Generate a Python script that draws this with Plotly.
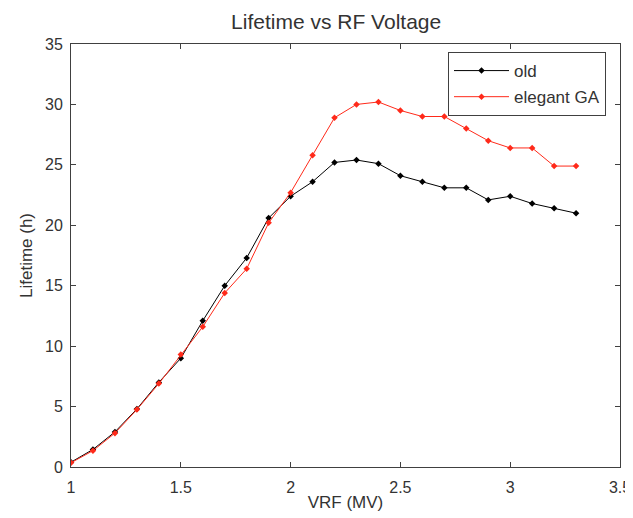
import plotly.graph_objects as go

vrf = [1.0, 1.1, 1.2, 1.3, 1.4, 1.5, 1.6, 1.7, 1.8, 1.9, 2.0, 2.1,
       2.2, 2.3, 2.4, 2.5, 2.6, 2.7, 2.8, 2.9, 3.0, 3.1, 3.2, 3.3]
old = [0.4, 1.45, 2.9, 4.8, 7.0, 9.0, 12.1, 15.0, 17.3, 20.6, 22.4, 23.6,
       25.2, 25.4, 25.1, 24.1, 23.6, 23.1, 23.1, 22.1, 22.4, 21.8, 21.4, 21.0]
ga = [0.35, 1.35, 2.8, 4.75, 6.9, 9.3, 11.6, 14.4, 16.4, 20.2, 22.7, 25.8,
      28.9, 30.0, 30.2, 29.5, 29.0, 29.0, 28.0, 27.0, 26.4, 26.4, 24.9, 24.9]
xticks = [1, 1.5, 2, 2.5, 3, 3.5]
xticklabels = ["1", "1.5", "2", "2.5", "3", "3.5"]
yticks = [0, 5, 10, 15, 20, 25, 30, 35]

fig = go.Figure()
fig.add_trace(go.Scatter(x=vrf, y=old, mode="lines+markers", name="old",
                         legendgroup="a",
                         line=dict(color="black", width=1),
                         marker=dict(symbol="diamond", size=5, color="black")))
fig.add_trace(go.Scatter(x=vrf, y=ga, mode="lines+markers", name="elegant GA",
                         legendgroup="b",
                         line=dict(color="#ff2a1a", width=1),
                         marker=dict(symbol="diamond", size=5, color="#ff2a1a")))

axis_common = dict(showline=True, linecolor="#404040", linewidth=1, mirror="ticks",
                   ticks="inside", ticklen=5, tickcolor="#404040", showgrid=False,
                   zeroline=False, automargin=False,
                   tickfont=dict(size=16, color="#333"))

fig.update_layout(
    width=625, height=510,
    paper_bgcolor="white", plot_bgcolor="white",
    font=dict(family="Liberation Sans, Arial, sans-serif", color="#333"),
    title=dict(text="Lifetime vs RF Voltage", x=0.525, xanchor="center",
               yref="container", y=0.974, yanchor="middle",
               font=dict(size=21, color="#333")),
    margin=dict(l=63, r=13, t=36, b=51, pad=0),
    xaxis=dict(range=[1, 3.5], tickvals=xticks, ticktext=xticklabels,
               ticklabelstandoff=6,
               title=dict(text="VRF (MV)", font=dict(size=17), standoff=0),
               **axis_common),
    yaxis=dict(range=[0, 35], tickvals=yticks, ticklabelstandoff=4,
               title=dict(text="Lifetime (h)", font=dict(size=17), standoff=8),
               **axis_common),
    showlegend=True,
    legend=dict(x=0.9745, y=0.981, xanchor="right", yanchor="top",
                bordercolor="#404040", borderwidth=1, bgcolor="white",
                font=dict(size=17, color="#333"), tracegroupgap=1,
                itemwidth=55),
)

fig.write_html("out.html")
